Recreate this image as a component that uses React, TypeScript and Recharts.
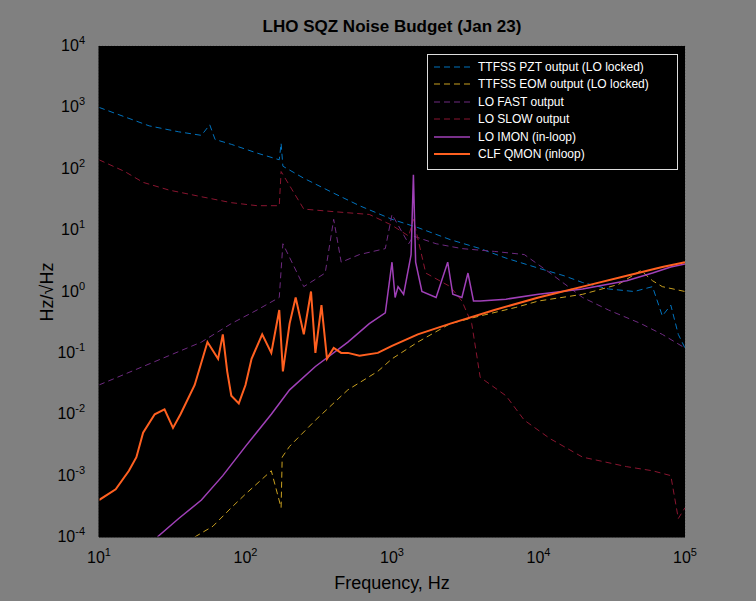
import React from "react";
import { LineChart, Line, XAxis, YAxis, CartesianGrid } from "recharts";

// Frequencies (Hz) and amplitude spectral densities (Hz/rtHz)
const pztF = [10, 15, 22, 35, 50, 57, 62, 80, 120, 170, 175, 180, 250, 400, 600, 1000, 1500, 2500, 4000, 6000, 10000, 15000, 20000, 30000, 45000, 60000, 70000, 80000, 90000, 100000];
const pztV = [1000, 700, 500, 400, 350, 520, 300, 250, 180, 140, 260, 110, 70, 40, 25, 15, 11, 7, 5, 3.5, 2.4, 1.8, 1.4, 1.1, 1.0, 1.2, 0.4, 0.6, 0.2, 0.12];

const eomF = [45, 60, 80, 100, 150, 175, 178, 200, 300, 500, 800, 1000, 1500, 2500, 4000, 7000, 10000, 20000, 35000, 50000, 60000, 70000, 100000];
const eomV = [1e-4, 1.5e-4, 3e-4, 5e-4, 1.2e-3, 3e-4, 2e-3, 3e-3, 8e-3, 0.025, 0.05, 0.08, 0.15, 0.3, 0.4, 0.55, 0.7, 0.9, 1.3, 2.2, 1.5, 1.2, 1.0];

const fastF = [10, 15, 20, 30, 50, 80, 120, 170, 180, 250, 350, 400, 450, 600, 900, 1000, 1300, 1400, 2000, 3000, 5000, 8000, 12000, 20000, 30000, 50000, 70000, 100000];
const fastV = [0.03, 0.045, 0.06, 0.09, 0.15, 0.3, 0.5, 0.8, 6, 1.2, 2, 15, 3, 4, 5, 18, 6, 8, 6, 5, 4.5, 4, 2, 0.8, 0.5, 0.3, 0.2, 0.12];

const slowF = [10, 15, 20, 30, 50, 80, 120, 170, 175, 250, 400, 700, 1000, 1300, 1400, 1700, 2500, 3000, 3500, 4000, 6000, 8000, 12000, 20000, 40000, 60000, 80000, 90000, 100000];
const slowV = [140, 90, 60, 45, 35, 28, 25, 25, 90, 22, 20, 18, 12, 8, 15, 2, 1.2, 0.7, 0.3, 0.04, 0.02, 0.008, 0.004, 0.002, 0.0014, 0.0012, 0.001, 2e-4, 3e-4];

const imonF = [25, 35, 50, 70, 100, 150, 200, 300, 500, 700, 900, 1000, 1050, 1100, 1200, 1350, 1400, 1450, 1600, 2000, 2400, 2600, 3000, 3300, 3600, 4000, 6000, 10000, 20000, 40000, 60000, 80000, 100000];
const imonV = [1e-4, 2e-4, 4e-4, 1e-3, 3e-3, 0.01, 0.025, 0.06, 0.15, 0.3, 0.45, 3, 0.8, 1.2, 0.9, 4, 80, 3, 1.0, 0.8, 3, 0.9, 0.8, 2, 0.7, 0.7, 0.75, 0.9, 1.1, 1.5, 2, 2.5, 2.8];

const qmonF = [10, 13, 16, 18, 20, 24, 28, 32, 36, 45, 55, 65, 70, 75, 80, 90, 100, 110, 130, 150, 170, 180, 200, 220, 250, 280, 300, 330, 360, 400, 450, 500, 600, 800, 1000, 1500, 2500, 5000, 10000, 20000, 40000, 70000, 100000];
const qmonV = [4e-4, 6e-4, 1.2e-3, 2e-3, 5e-3, 0.01, 0.012, 0.006, 0.01, 0.03, 0.15, 0.08, 0.2, 0.05, 0.02, 0.015, 0.03, 0.08, 0.2, 0.1, 0.5, 0.05, 0.3, 0.8, 0.2, 1, 0.1, 0.6, 0.08, 0.12, 0.1, 0.1, 0.09, 0.1, 0.13, 0.2, 0.3, 0.5, 0.8, 1.2, 1.8, 2.5, 3];

const series = [
  { name: "TTFSS PZT output (LO locked)", f: pztF, v: pztV, color: "#0072BD", dash: "6 4", w: 1 },
  { name: "TTFSS EOM output (LO locked)", f: eomF, v: eomV, color: "#C9A020", dash: "6 4", w: 1 },
  { name: "LO FAST output", f: fastF, v: fastV, color: "#6E2A80", dash: "6 4", w: 1 },
  { name: "LO SLOW output", f: slowF, v: slowV, color: "#8A1530", dash: "6 4", w: 1 },
  { name: "LO IMON (in-loop)", f: imonF, v: imonV, color: "#A040B8", dash: undefined, w: 1.5 },
  { name: "CLF QMON (inloop)", f: qmonF, v: qmonV, color: "#FF6020", dash: undefined, w: 2 },
];

const xMajor = [10, 100, 1000, 10000, 100000];
const yMajor = [1e-4, 1e-3, 1e-2, 1e-1, 1, 10, 100, 1000, 10000];
const minors = (majors: number[]) => {
  const out: number[] = [];
  majors.forEach((m, i) => {
    out.push(m);
    if (i < majors.length - 1) for (let k = 2; k < 10; k++) out.push(m * k);
  });
  return out;
};
const xTicks = minors(xMajor);
const yTicks = minors(yMajor);

const font = "'Liberation Sans', Arial, sans-serif";

const PowTick = (props: any) => {
  const { x, y, payload, axis } = props;
  const e = Math.round(Math.log10(payload.value));
  if (Math.abs(Math.log10(payload.value) - e) > 1e-6) return null;
  if (axis === "x")
    return (
      <text x={x} y={y + 18} textAnchor="middle" fill="#000" fontSize={16} fontFamily={font}>
        10<tspan dy={-7} fontSize={11}>{e}</tspan>
      </text>
    );
  return (
    <text x={x - 6} y={y + 5} textAnchor="end" fill="#000" fontSize={16} fontFamily={font}>
      10<tspan dy={-7} fontSize={11}>{e}</tspan>
    </text>
  );
};

export default function App() {
  return (
    <div style={{ position: "fixed", left: 0, top: 0, width: 756, height: 601, background: "#808080", fontFamily: font }}>
      <div style={{ position: "absolute", left: 0, width: 784, top: 17, textAlign: "center", fontWeight: "bold", fontSize: 17 }}>
        LHO SQZ Noise Budget (Jan 23)
      </div>
      <LineChart width={756} height={601} margin={{ top: 46, right: 71, bottom: 34, left: 39 }}>
        <rect x={99} y={46} width={586} height={491} fill="#000" />
        <CartesianGrid stroke="#666" strokeDasharray="1 2" fill="#000" horizontal vertical />
        <XAxis
          type="number"
          dataKey="f"
          scale="log"
          domain={[10, 100000]}
          ticks={xTicks}
          interval={0}
          allowDataOverflow
          tick={<PowTick axis="x" />}
          tickLine={false}
          axisLine={{ stroke: "#000" }}
          height={30}
          label={{ value: "Frequency, Hz", position: "insideBottom", offset: -22, fill: "#000", fontSize: 18 }}
        />
        <YAxis
          type="number"
          scale="log"
          domain={[1e-4, 1e4]}
          ticks={yTicks}
          interval={0}
          allowDataOverflow
          tick={<PowTick axis="y" />}
          tickLine={false}
          axisLine={{ stroke: "#000" }}
          width={60}
          label={{ value: "Hz/\u221AHz", angle: -90, position: "insideLeft", offset: 8, dy: 30, fill: "#000", fontSize: 18 }}
        />
        {series.map((s) => (
          <Line
            key={s.name}
            data={s.f.map((f, i) => ({ f, v: s.v[i] }))}
            dataKey="v"
            type="linear"
            stroke={s.color}
            strokeWidth={s.w}
            strokeDasharray={s.dash}
            dot={false}
            isAnimationActive={false}
          />
        ))}
      </LineChart>
      <div style={{ position: "absolute", left: 427, top: 54, width: 249, height: 108, background: "#000", border: "1px solid #ddd", padding: "3px 0" }}>
        {series.map((s) => (
          <div key={s.name} style={{ display: "flex", alignItems: "center", height: 17.5, color: "#fff", fontSize: 12 }}>
            <svg width={40} height={10} style={{ marginLeft: 4, marginRight: 6 }}>
              <line x1={2} x2={38} y1={5} y2={5} stroke={s.color} strokeWidth={s.w} strokeDasharray={s.dash} />
            </svg>
            {s.name}
          </div>
        ))}
      </div>
    </div>
  );
}
